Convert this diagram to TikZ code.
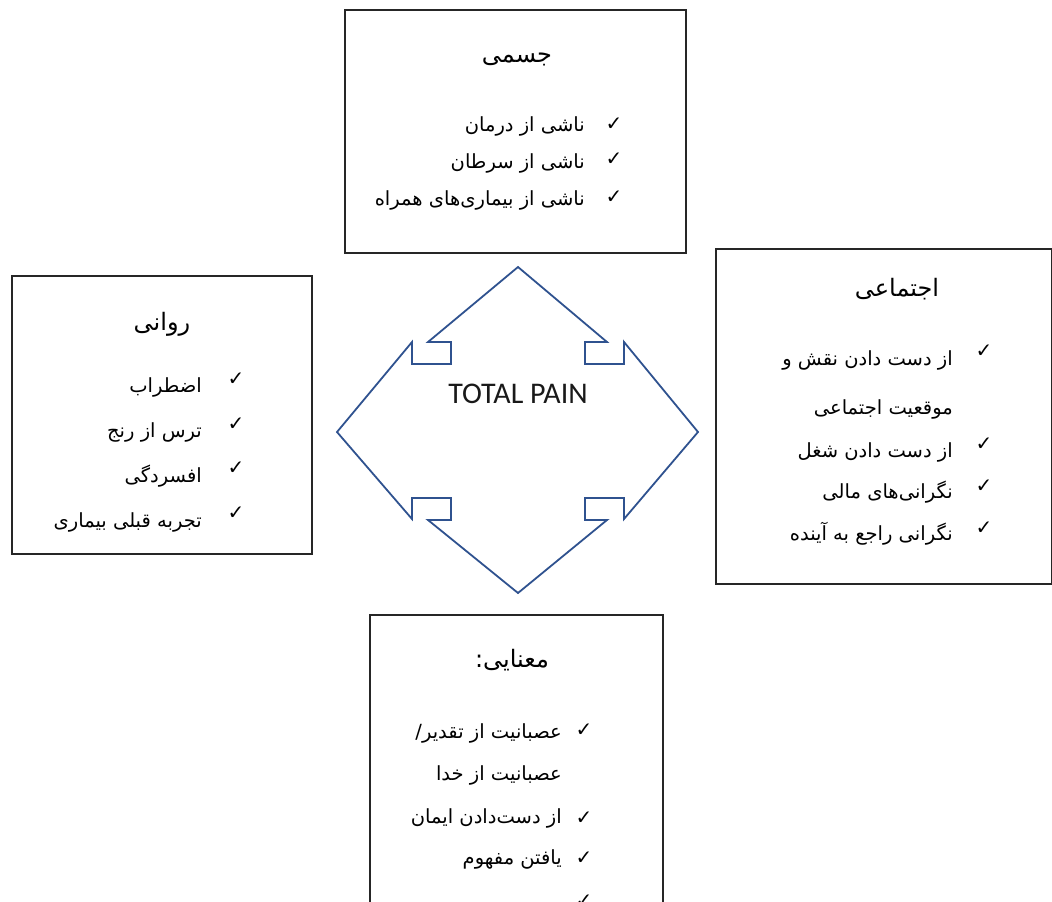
\documentclass[tikz,border=0pt]{standalone}
\usepackage{fontspec}
\setmainfont{Carlito}
\newfontfamily\fafont[Script=Arabic]{DejaVu Sans}
\newfontfamily\symfont{DejaVu Sans}
\TeXXeTstate=1
\definecolor{arrowblue}{HTML}{2F528F}

\begin{document}
\begin{tikzpicture}[x=1pt,y=-1pt,
    box/.style={draw=black!85,line width=1.8pt,anchor=north west,inner sep=0pt},
    heading/.style={font=\fafont\fontsize{24}{28}\selectfont,anchor=base,inner sep=0pt},
    item/.style={font=\fafont\fontsize{19.5}{22}\selectfont,anchor=base east,inner sep=0pt},
    tick/.style={font=\symfont\bfseries\fontsize{20}{24}\selectfont,anchor=base,inner sep=0pt}]

    % Page frame, everything outside is cut off
    \useasboundingbox (0,0) rectangle (1052,902);
    \clip (0,0) rectangle (1052,902);

    % Four-way arrow in the centre
    \draw[arrowblue, line width=1.8pt, line join=miter]
        (518,267) -- (428,342) -- (451,342) -- (451,364) -- (412,364) -- (412,342)
        -- (337,432) -- (412,519) -- (412,498) -- (451,498) -- (451,520) -- (428,520)
        -- (518,593) -- (607,520) -- (585,520) -- (585,498) -- (624,498) -- (624,519)
        -- (698,432) -- (624,342) -- (624,364) -- (585,364) -- (585,342) -- (607,342)
        -- cycle;
    \node[font=\fontsize{30}{33}\selectfont, text=black!90] (total) at (518,394) {TOTAL PAIN};

    % Physical box (top)
    \node[box, minimum width=341pt, minimum height=243pt] (physical) at (344,9) {};
    \node[heading] (physicalT) at (517,62) {\beginR جسمی\endR};
    \node[item] (phys1) at (585,131) {\beginR ناشی از  درمان\endR};
    \node[item] (phys2) at (585,168) {\beginR ناشی از سرطان\endR};
    \node[item] (phys3) at (585,205) {\beginR ناشی از بیماری‌های همراه\endR};
    \foreach \y [count=\i] in {130,165,203}
        \node[tick] (physck\i) at (614,\y) {✓};

    % Psychological box (left)
    \node[box, minimum width=300pt, minimum height=278pt] (psych) at (11,275) {};
    \node[heading] (psychT) at (162,330) {\beginR روانی\endR};
    \node[item] (psy1) at (202,392) {\beginR اضطراب\endR};
    \node[item] (psy2) at (202,437) {\beginR ترس از رنج\endR};
    \node[item] (psy3) at (202,482) {\beginR افسردگی\endR};
    \node[item] (psy4) at (202,527) {\beginR تجربه قبلی بیماری\endR};
    \foreach \y [count=\i] in {385,430,474,519}
        \node[tick] (psyck\i) at (236,\y) {✓};

    % Social box (right, runs off the page)
    \node[box, minimum width=336pt, minimum height=335pt] (social) at (715,248) {};
    \node[heading] (socialT) at (897,296) {\beginR اجتماعی\endR};
    \node[item] (soc1) at (953,365) {\beginR از دست دادن نقش و\endR};
    \node[item] (soc1b) at (953,414) {\beginR موقعیت اجتماعی\endR};
    \node[item] (soc2) at (953,457) {\beginR از دست دادن شغل\endR};
    \node[item] (soc3) at (953,498) {\beginR نگرانی‌های مالی\endR};
    \node[item] (soc4) at (953,540) {\beginR نگرانی راجع به آینده\endR};
    \foreach \y [count=\i] in {357,450,492,534}
        \node[tick] (socck\i) at (984,\y) {✓};

    % Spiritual box (bottom, runs off the page)
    \node[box, minimum width=293pt, minimum height=300pt] (spirit) at (369,614) {};
    \node[heading] (spiritT) at (512,667) {\beginR معنایی:\endR};
    \node[item] (spi1) at (562,738) {\beginR عصبانیت از تقدیر/\endR};
    \node[item] (spi1b) at (562,780) {\beginR عصبانیت از خدا\endR};
    \node[item] (spi2) at (562,823) {\beginR از دست‌دادن ایمان\endR};
    \node[item] (spi3) at (562,864) {\beginR یافتن مفهوم\endR};
    \foreach \y [count=\i] in {736,824,864,907}
        \node[tick] (spick\i) at (584,\y) {✓};
\end{tikzpicture}
\end{document}
